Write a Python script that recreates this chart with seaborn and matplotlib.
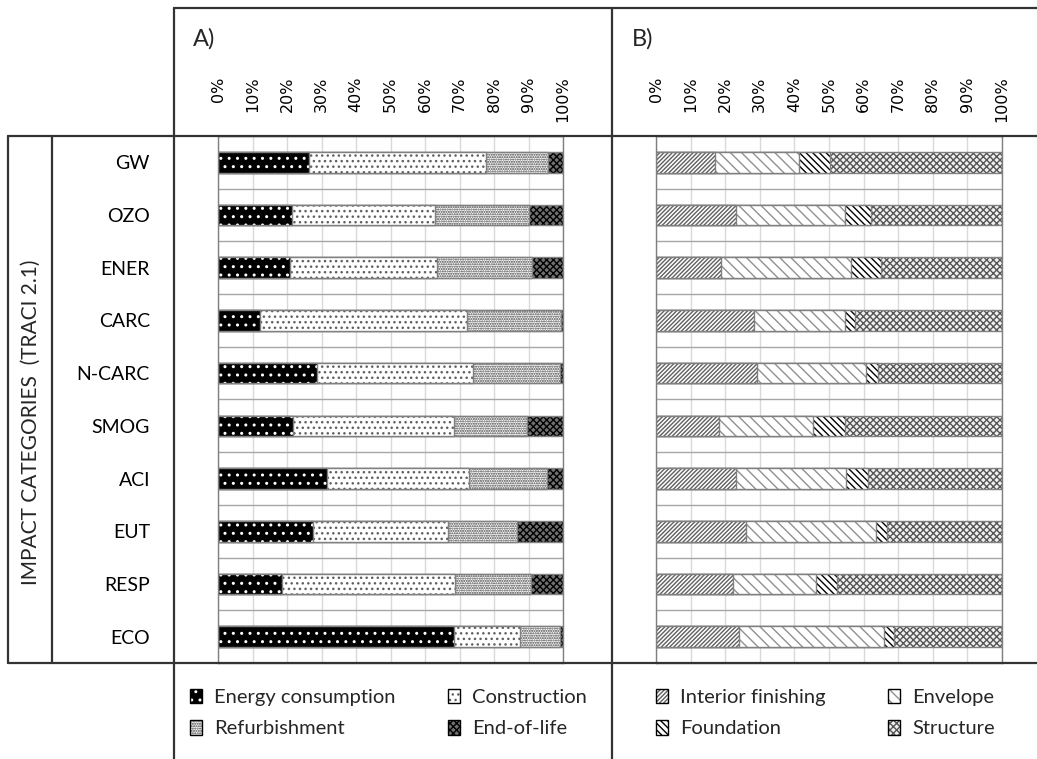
import numpy as np
import matplotlib
matplotlib.use('Agg')
import matplotlib.pyplot as plt
import matplotlib.colors as mcolors
from matplotlib.patches import Patch
import seaborn as sns

categories = ['GW', 'OZO', 'ENER', 'CARC', 'N-CARC', 'SMOG', 'ACI', 'EUT', 'RESP', 'ECO']
tick_values = [0, 10, 20, 30, 40, 50, 60, 70, 80, 90, 100]
tick_labels = ['0%', '10%', '20%', '30%', '40%', '50%', '60%', '70%', '80%', '90%', '100%']

# A) life cycle stages (% of each impact category)
energy = [26.3, 21.5, 20.8, 12.3, 28.8, 21.7, 31.5, 27.6, 18.6, 68.4]
construction = [51.5, 41.3, 42.6, 59.9, 45.1, 46.7, 41.2, 39.1, 50.2, 19.0]
refurbishment = [17.9, 27.3, 27.7, 27.3, 25.1, 21.2, 22.7, 20.1, 21.8, 11.6]
end_of_life = [4.3, 9.9, 8.9, 0.5, 1.0, 10.4, 4.6, 13.2, 9.4, 1.0]

# B) building elements (% of construction stage)
interior = [17.1, 23.1, 18.7, 28.4, 29.3, 18.3, 23.1, 26.0, 22.2, 24.1]
envelope = [24.1, 31.4, 37.6, 26.1, 31.5, 27.2, 31.7, 37.5, 24.0, 41.9]
foundation = [9.1, 7.6, 8.7, 2.9, 3.3, 9.2, 6.4, 3.2, 6.1, 2.9]
structure = [49.7, 37.9, 35.0, 42.6, 35.9, 45.3, 38.8, 33.3, 47.7, 31.1]

series_a = [('Energy consumption', energy), ('Construction', construction),
            ('Refurbishment', refurbishment), ('End-of-life', end_of_life)]
series_b = [('Interior finishing', interior), ('Envelope', envelope),
            ('Foundation', foundation), ('Structure', structure)]

# face, hatch, hatch colour
styles_a = [('black', '..', 'white'), ('white', '...', '#606060'),
            ('white', '.......', '#404040'), ('#707070', 'xxxxx', 'black')]
styles_b = [('white', '////////', '#606060'), ('white', '\\\\\\', '#909090'),
            ('white', '\\\\\\\\\\', 'black'), ('#f0f0f0', 'xxxxx', '#555555')]

W, H = 1037, 759

sns.set_theme(style='white')
plt.rcParams['font.family'] = ['Lato', 'DejaVu Sans']
plt.rcParams['hatch.linewidth'] = 1.0


def set_hatch_color(p, color):
    if hasattr(p, 'set_hatchcolor'):
        p.set_hatchcolor(color)
    else:
        p._hatch_color = mcolors.to_rgba(color)


def px_rect(left, top, right, bottom):
    return [left / W, 1 - bottom / H, (right - left) / W, (bottom - top) / H]


def stacked_panel(ax, series, styles):
    # draw the cumulative totals from the back so the earlier stages sit on top
    for i in reversed(range(len(series))):
        cum = np.sum([s[1] for s in series[:i + 1]], axis=0)
        sns.barplot(x=cum, y=categories, orient='h', width=0.39,
                    errorbar=None, ax=ax)
        face, hatch, hc = styles[i]
        for p in ax.containers[-1]:
            p.set_facecolor(face)
            p.set_hatch(hatch)
            p.set_edgecolor('#808080')
            p.set_linewidth(1)
            set_hatch_color(p, hc)

    ax.set_xlim(0, 100)
    ax.set_ylim(len(categories) - 0.5, -0.5)
    ax.set_facecolor('white')
    ax.set_xlabel('')
    ax.set_ylabel('')
    for s in ax.spines.values():
        s.set_color('#7f7f7f')
        s.set_linewidth(1)

    ax.set_axisbelow(True)
    ax.xaxis.tick_top()
    ax.set_xticks(tick_values)
    ax.set_xticklabels(tick_labels, rotation=90, fontsize=11.5,
                       family=['DejaVu Sans'])
    for lbl in ax.get_xticklabels():
        lbl.set_verticalalignment('top')
    ax.tick_params(axis='x', which='both', length=0, pad=43, colors='black')
    ax.grid(axis='x', color='#d9d9d9', lw=1)
    ax.set_yticks(np.arange(-0.5, len(categories), 1), minor=True)
    ax.grid(axis='y', which='minor', color='#a6a6a6', lw=1)
    ax.grid(axis='y', which='major', visible=False)
    ax.tick_params(axis='y', which='both', length=0)


def add_legend(fig, series, styles, x_px, y_px, colsp):
    handles = []
    for (name, _), (face, hatch, hc) in zip(series, styles):
        h = Patch(facecolor=face, edgecolor='black', hatch=hatch, linewidth=1,
                  label=name)
        set_hatch_color(h, hc)
        handles.append(h)
    # legend fills column by column: put items 1 and 3 in the first column
    handles = [handles[0], handles[2], handles[1], handles[3]]
    fig.legend(handles=handles, loc='center left', ncol=2, frameon=False,
               bbox_to_anchor=(x_px / W, 1 - y_px / H), borderaxespad=0,
               borderpad=0, fontsize=14.5, handlelength=0.6, handleheight=0.75,
               handletextpad=0.6, labelspacing=0.7, columnspacing=colsp)


fig = plt.figure(figsize=(W / 100, H / 100), dpi=100)

ax_a = fig.add_axes(px_rect(218, 136, 563, 663))
ax_b = fig.add_axes(px_rect(656, 136, 1002, 663))

stacked_panel(ax_a, series_a, styles_a)
stacked_panel(ax_b, series_b, styles_b)

ax_a.set_yticks(range(len(categories)))
ax_a.set_yticklabels(categories, fontsize=14, color='black')
ax_a.tick_params(axis='y', pad=49)
ax_b.set_yticks(range(len(categories)))
ax_b.set_yticklabels([])

add_legend(fig, series_a, styles_a, 190, 713, 2.6)
add_legend(fig, series_b, styles_b, 656, 713, 3.1)

# table frame drawn in pixel coordinates
frame = fig.add_axes([0, 0, 1, 1])
frame.set_xlim(0, W)
frame.set_ylim(H, 0)
frame.axis('off')
lc = '#333333'
frame.plot([174, W], [8, 8], color=lc, lw=1.6)
frame.plot([8, W], [136, 136], color=lc, lw=1.6)
frame.plot([8, W], [663, 663], color=lc, lw=1.6)
frame.plot([8, 8], [136, 663], color=lc, lw=1.6)
frame.plot([52, 52], [136, 663], color=lc, lw=1.6)
frame.plot([174, 174], [8, H], color=lc, lw=1.6)
frame.plot([612, 612], [8, H], color=lc, lw=1.6)

frame.text(193, 39, 'A)', fontsize=17, ha='left', va='center')
frame.text(632, 39, 'B)', fontsize=17, ha='left', va='center')
frame.text(31, 422, 'IMPACT CATEGORIES  (TRACI 2.1)', fontsize=15,
           rotation=90, ha='center', va='center')

fig.savefig('out.png', dpi=100)
